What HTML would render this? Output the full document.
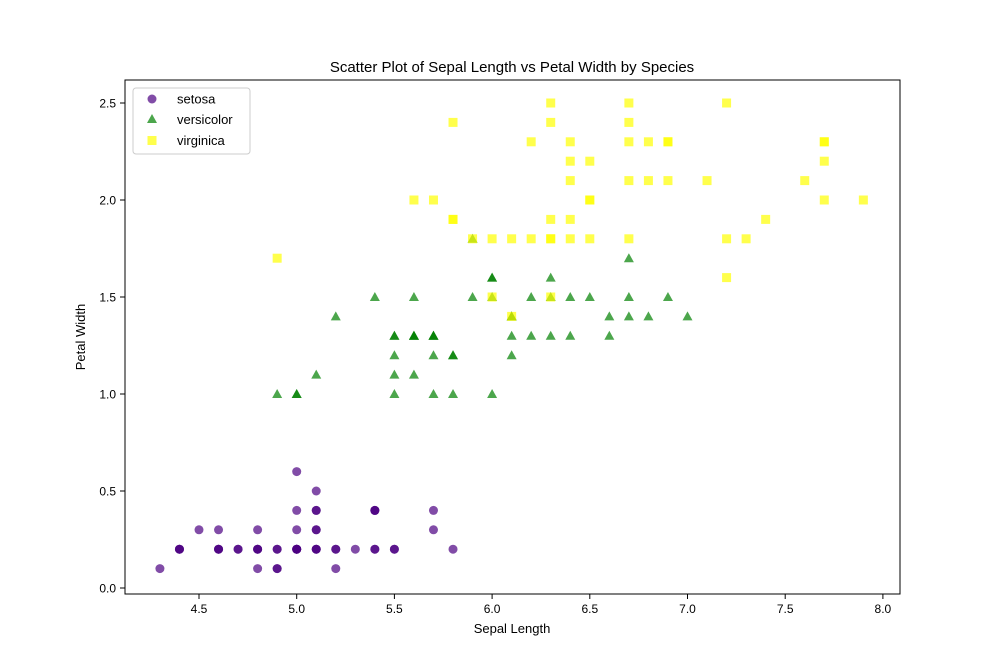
<!DOCTYPE html>
<html><head><meta charset="utf-8"><style>
body{margin:0;background:#fff;}
svg text{font-family:"Liberation Sans","DejaVu Sans",sans-serif;}
</style></head><body>
<svg id="chart" width="1000" height="666" xmlns="http://www.w3.org/2000/svg">
<rect width="1000" height="666" fill="#fff"/>
<text x="512" y="72" font-size="15" text-anchor="middle">Scatter Plot of Sepal Length vs Petal Width by Species</text>
<g id="marks"></g>
<g id="axes"></g>
<rect x="125" y="80" width="775" height="514" fill="none" stroke="#000" stroke-width="1"/>
<text x="512" y="633" font-size="13" text-anchor="middle">Sepal Length</text>
<text x="85" y="337" font-size="13" text-anchor="middle" transform="rotate(-90 85 337)">Petal Width</text>
<g>
<rect x="133" y="88" width="117" height="66" rx="3" fill="#fff" fill-opacity="0.8" stroke="#ccc"/>
<g><circle cx="152" cy="99" r="4.5" fill="#4b0082" fill-opacity="0.7"/><text x="177" y="103.5" font-size="13">setosa</text></g>
<g><polygon points="152,114 157,123 147,123" fill="green" fill-opacity="0.7"/><text x="177" y="124" font-size="13">versicolor</text></g>
<g><rect x="147.5" y="136" width="9" height="9" fill="yellow" fill-opacity="0.7"/><text x="177" y="145" font-size="13">virginica</text></g>
</g>
</svg>
<script>
const xTicks=[4.5,5.0,5.5,6.0,6.5,7.0,7.5,8.0];
const yTicks=[0.0,0.5,1.0,1.5,2.0,2.5];
const setosaX=[5.1,4.9,4.7,4.6,5.0,5.4,4.6,5.0,4.4,4.9,5.4,4.8,4.8,4.3,5.8,5.7,5.4,5.1,5.7,5.1,5.4,5.1,4.6,5.1,4.8,5.0,5.0,5.2,5.2,4.7,4.8,5.4,5.2,5.5,4.9,5.0,5.5,4.9,4.4,5.1,5.0,4.5,4.4,5.0,5.1,4.8,5.1,4.6,5.3,5.0];
const setosaY=[0.2,0.2,0.2,0.2,0.2,0.4,0.3,0.2,0.2,0.1,0.2,0.2,0.1,0.1,0.2,0.4,0.4,0.3,0.3,0.3,0.2,0.4,0.2,0.5,0.2,0.2,0.4,0.2,0.2,0.2,0.2,0.4,0.1,0.2,0.2,0.2,0.2,0.1,0.2,0.2,0.3,0.3,0.2,0.6,0.4,0.3,0.2,0.2,0.2,0.2];
const versicolorX=[7.0,6.4,6.9,5.5,6.5,5.7,6.3,4.9,6.6,5.2,5.0,5.9,6.0,6.1,5.6,6.7,5.6,5.8,6.2,5.6,5.9,6.1,6.3,6.1,6.4,6.6,6.8,6.7,6.0,5.7,5.5,5.5,5.8,6.0,5.4,6.0,6.7,6.3,5.6,5.5,5.5,6.1,5.8,5.0,5.6,5.7,5.7,6.2,5.1,5.7];
const versicolorY=[1.4,1.5,1.5,1.3,1.5,1.3,1.6,1.0,1.3,1.4,1.0,1.5,1.0,1.4,1.3,1.4,1.5,1.0,1.5,1.1,1.8,1.3,1.5,1.2,1.3,1.4,1.4,1.7,1.5,1.0,1.1,1.0,1.2,1.6,1.5,1.6,1.5,1.3,1.3,1.3,1.2,1.4,1.2,1.0,1.3,1.2,1.3,1.3,1.1,1.3];
const virginicaX=[6.3,5.8,7.1,6.3,6.5,7.6,4.9,7.3,6.7,7.2,6.5,6.4,6.8,5.7,5.8,6.4,6.5,7.7,7.7,6.0,6.9,5.6,7.7,6.3,6.7,7.2,6.2,6.1,6.4,7.2,7.4,7.9,6.4,6.3,6.1,7.7,6.3,6.4,6.0,6.9,6.7,6.9,5.8,6.8,6.7,6.7,6.3,6.5,6.2,5.9];
const virginicaY=[2.5,1.9,2.1,1.8,2.2,2.1,1.7,1.8,1.8,2.5,2.0,1.9,2.1,2.0,2.4,2.3,1.8,2.2,2.3,1.5,2.3,2.0,2.0,1.8,2.1,1.8,1.8,1.8,2.1,1.6,1.9,2.0,2.2,1.5,1.4,2.3,2.4,1.8,1.8,2.1,2.4,2.3,1.9,2.3,2.5,2.3,1.9,2.0,2.3,1.8];
const NS='http://www.w3.org/2000/svg';
function xs(v){return 199+(v-4.5)*195.4;}
function ys(v){return 588-v*194;}
const marks=document.getElementById('marks'),axes=document.getElementById('axes');
function mk(tag,attrs,parent){const e=document.createElementNS(NS,tag);for(const k in attrs)e.setAttribute(k,attrs[k]);parent.appendChild(e);return e;}
xTicks.forEach(t=>{const x=xs(t);
 const l=mk('line',{x1:x,x2:x,y1:594,y2:599,stroke:'#000'},axes);
 
 
 const tx=mk('text',{x:x,y:613,'font-size':12,'text-anchor':'middle'},axes);tx.textContent=t.toFixed(1);
 
 
});
yTicks.forEach(t=>{const y=ys(t);
 const l=mk('line',{x1:120,x2:125,y1:y,y2:y,stroke:'#000'},axes);
 
 
 const tx=mk('text',{x:116,y:y+4.5,'font-size':12,'text-anchor':'end'},axes);tx.textContent=t.toFixed(1);
 
 
});
setosaX.forEach((v,i)=>{const c=mk('circle',{cx:xs(v),cy:ys(setosaY[i]),r:4.5,fill:'#4b0082','fill-opacity':0.7},marks);
 
 });
versicolorX.forEach((v,i)=>{const x=xs(v),y=ys(versicolorY[i]);
 const p=mk('polygon',{points:`${x},${y-5} ${x+5},${y+4} ${x-5},${y+4}`,fill:'green','fill-opacity':0.7},marks);
 
 });
virginicaX.forEach((v,i)=>{const x=xs(v),y=ys(virginicaY[i]);
 const r=mk('rect',{x:x-4.5,y:y-4.5,width:9,height:9,fill:'yellow','fill-opacity':0.7},marks);
 
 });
</script>
</body></html>
